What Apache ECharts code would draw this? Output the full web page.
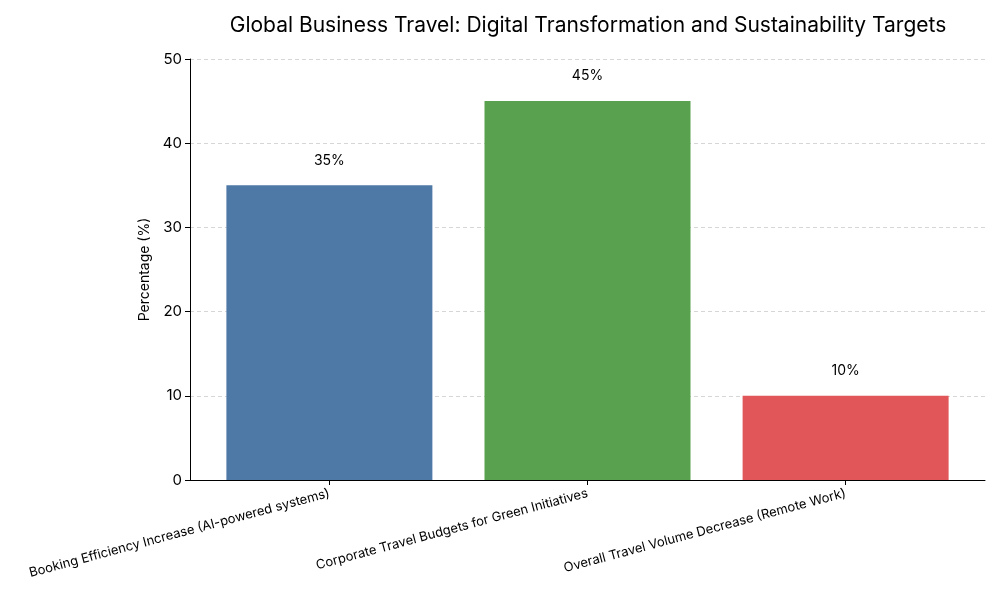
<!DOCTYPE html>
<html>
<head>
<meta charset="utf-8">
<script src="https://cdn.jsdelivr.net/npm/echarts@6/dist/echarts.min.js"></script>
<style>html,body{margin:0;padding:0;background:#fff}#c{width:1000px;height:600px}</style>
</head>
<body>
<div id="c"></div>
<script>
const categories = [
  "Booking Efficiency Increase (AI-powered systems)",
  "Corporate Travel Budgets for Green Initiatives",
  "Overall Travel Volume Decrease (Remote Work)"
];
const values = [35, 45, 10];
const barColors = ["#4e79a7", "#59a14f", "#e15759"];
const yTicks = [0, 10, 20, 30, 40, 50];

const FONT = "Inter, 'Open Sans', sans-serif";
const idx = categories.map((c, i) => i);
const chart = echarts.init(document.getElementById('c'), null, {renderer: 'canvas'});
chart.setOption({
  animation: false,
  backgroundColor: '#fff',
  title: {
    text: 'Global Business Travel: Digital Transformation and Sustainability Targets',
    left: 583, top: 10, textAlign: 'center',
    textStyle: {fontFamily: FONT, fontSize: 21, fontWeight: 'normal', color: '#000'}
  },
  grid: {left: 190, right: 15, top: 59, bottom: 120},
  xAxis: {
    type: 'value',
    min: -0.54, max: 2.54,
    splitLine: {show: false},
    axisLine: {show: true, onZero: false, lineStyle: {color: '#000', width: 1}},
    axisTick: {show: true, length: 5, lineStyle: {color: '#000'}, customValues: idx},
    axisLabel: {
      rotate: 15, fontFamily: FONT, fontSize: 13, color: '#000', margin: 13,
      customValues: idx,
      formatter: v => categories[Math.round(v)]
    }
  },
  yAxis: {
    type: 'value',
    min: yTicks[0], max: yTicks[yTicks.length - 1], interval: 10,
    name: 'Percentage (%)', nameLocation: 'middle', nameGap: 38,
    nameTextStyle: {fontFamily: FONT, fontSize: 14, color: '#000'},
    axisLine: {show: true, onZero: false, lineStyle: {color: '#000'}},
    axisTick: {show: true, length: 5, lineStyle: {color: '#000'}},
    axisLabel: {fontFamily: FONT, fontSize: 15, color: '#000', margin: 8},
    splitLine: {show: true, lineStyle: {color: '#cccccc', type: [4, 3], width: 0.8}}
  },
  series: [{
    type: 'bar',
    barWidth: 206,
    data: values.map((v, i) => ({value: [i, v], itemStyle: {color: barColors[i]}})),
    label: {
      show: true, position: 'top', distance: 18,
      formatter: p => p.value[1] + '%',
      fontFamily: FONT, fontSize: 14, color: '#000'
    }
  }]
});
</script>
</body>
</html>
